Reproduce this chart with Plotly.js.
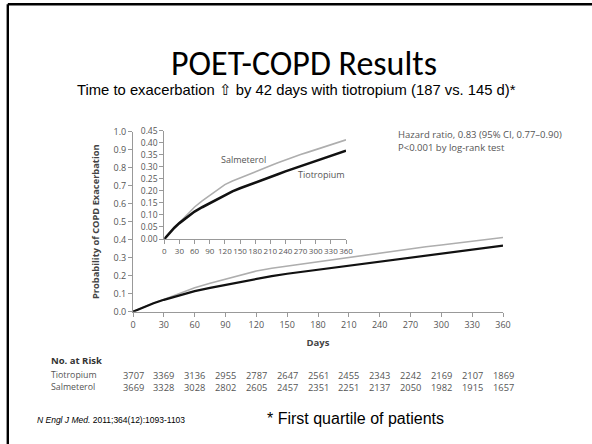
<!DOCTYPE html>
<html>
<head>
<meta charset="utf-8">
<script src="https://cdn.plot.ly/plotly-3.0.1.min.js"></script>
<style>
html,body{margin:0;padding:0;background:#fff;}
#chart{width:592px;height:444px;}
</style>
</head>
<body>
<div id="chart"></div>
<script>
// ---- data ----
var days = [0,10,20,30,45,60,75,90,105,120,135,150,165,180,195,210,225,240,255,270,285,300,315,330,345,360];
var tiotropium = [0,0.025,0.047,0.066,0.092,0.114,0.132,0.149,0.167,0.183,0.198,0.211,0.222,0.233,0.245,0.257,0.269,0.281,0.292,0.303,0.314,0.325,0.335,0.345,0.356,0.367];
var salmeterol = [0,0.026,0.048,0.068,0.100,0.133,0.158,0.180,0.205,0.226,0.241,0.253,0.265,0.277,0.291,0.304,0.317,0.329,0.340,0.351,0.361,0.371,0.381,0.391,0.402,0.412];
var riskDays = [0,30,60,90,120,150,180,210,240,270,300,330,360];
var tioRisk = [3707,3369,3136,2955,2787,2647,2561,2455,2343,2242,2169,2107,1869];
var salRisk = [3669,3328,3028,2802,2605,2457,2351,2251,2137,2050,1982,1915,1657];
var xTicks = [0,30,60,90,120,150,180,210,240,270,300,330,360];

// ---- helpers ----
var W = 592, H = 444;
function px(x){ return x / W; }
function py(y){ return 1 - y / H; }
var chartFont = 'Open Sans, Liberation Sans, sans-serif';
var gray = '#999';
var txt = '#555';

var traces = [
  {x: days, y: salmeterol, xaxis:'x', yaxis:'y', mode:'lines', line:{color:'#aeaeae', width:1.6}, name:'Salmeterol', hoverinfo:'skip'},
  {x: days, y: tiotropium, xaxis:'x', yaxis:'y', mode:'lines', line:{color:'#111111', width:2.2}, name:'Tiotropium', hoverinfo:'skip'},
  {x: days, y: salmeterol, xaxis:'x2', yaxis:'y2', mode:'lines', line:{color:'#aeaeae', width:1.6}, name:'Salmeterol', hoverinfo:'skip'},
  {x: days, y: tiotropium, xaxis:'x2', yaxis:'y2', mode:'lines', line:{color:'#111111', width:2.6}, name:'Tiotropium', hoverinfo:'skip'}
];

function axisBase(sz){
  return {showline:true, linecolor:gray, linewidth:1, ticks:'outside', ticklen:4, tickcolor:gray, tickwidth:1,
          showgrid:false, zeroline:false, tickangle:0, fixedrange:true,
          tickfont:{family:chartFont, size:sz, color:txt}};
}

var xaxis = Object.assign(axisBase(9), {domain:[px(133), px(503)], range:[0,360], tickvals:xTicks, anchor:'y',
  title:{text:'<b>Days</b>', font:{family:chartFont, size:9.5, color:'#444'}, standoff:9}});
var yaxis = Object.assign(axisBase(9), {domain:[py(311.7), py(131.7)], range:[0,1], dtick:0.1, tick0:0, tickformat:'.1f', anchor:'x',
  title:{text:'<b>Probability of COPD Exacerbation</b>', font:{family:chartFont, size:9.3, color:'#444'}, standoff:12}});
var xaxis2 = Object.assign(axisBase(8), {domain:[px(164.3), px(346)], range:[0,360], tickvals:xTicks, anchor:'y2'});
var yaxis2 = Object.assign(axisBase(8.5), {domain:[py(239), py(130.7)], range:[0,0.45], dtick:0.05, tick0:0, tickformat:'.2f', anchor:'x2'});

var annotations = [
  {text:'Time to exacerbation \u21E7 by 42 days with tiotropium (187 vs. 145 d)*', xref:'paper', yref:'paper', x:px(296), y:py(90),
   xanchor:'center', yanchor:'middle', showarrow:false, font:{family:'Liberation Sans, Arial, sans-serif', size:14.8, color:'#000'}},
  {text:'Hazard ratio, 0.83 (95% CI, 0.77\u20130.90)', xref:'paper', yref:'paper', x:px(396), y:py(134), xanchor:'left', yanchor:'middle',
   showarrow:false, font:{family:chartFont, size:9.5, color:txt}},
  {text:'P&lt;0.001 by log-rank test', xref:'paper', yref:'paper', x:px(396), y:py(147), xanchor:'left', yanchor:'middle',
   showarrow:false, font:{family:chartFont, size:9.5, color:txt}},
  {text:'Salmeterol', xref:'paper', yref:'paper', x:px(219), y:py(159), xanchor:'left', yanchor:'middle',
   showarrow:false, font:{family:chartFont, size:9, color:txt}},
  {text:'Tiotropium', xref:'paper', yref:'paper', x:px(296), y:py(174), xanchor:'left', yanchor:'middle',
   showarrow:false, font:{family:chartFont, size:9, color:txt}},
  {text:'<b>No. at Risk</b>', xref:'paper', yref:'paper', x:px(49), y:py(360), xanchor:'left', yanchor:'middle',
   showarrow:false, font:{family:chartFont, size:9.5, color:'#333'}},
  {text:'Tiotropium', xref:'paper', yref:'paper', x:px(49), y:py(375), xanchor:'left', yanchor:'middle',
   showarrow:false, font:{family:chartFont, size:8.8, color:txt}},
  {text:'Salmeterol', xref:'paper', yref:'paper', x:px(49), y:py(387), xanchor:'left', yanchor:'middle',
   showarrow:false, font:{family:chartFont, size:8.8, color:txt}},
  {text:'<i>N Engl J Med.</i> 2011;364(12):1093-1103', xref:'paper', yref:'paper', x:px(35), y:py(420), xanchor:'left', yanchor:'middle',
   showarrow:false, font:{family:'Liberation Sans, Arial, sans-serif', size:8.5, color:'#000'}},
  {text:'* First quartile of patients', xref:'paper', yref:'paper', x:px(265), y:py(418), xanchor:'left', yanchor:'middle',
   showarrow:false, font:{family:'Liberation Sans, Arial, sans-serif', size:16, color:'#000'}}
];
riskDays.forEach(function(d, i){
  annotations.push({text:String(tioRisk[i]), xref:'x', yref:'paper', x:d, y:py(375), xanchor:'center', yanchor:'middle',
    showarrow:false, font:{family:chartFont, size:9.3, color:txt}});
  annotations.push({text:String(salRisk[i]), xref:'x', yref:'paper', x:d, y:py(387), xanchor:'center', yanchor:'middle',
    showarrow:false, font:{family:chartFont, size:9.3, color:txt}});
});

var shapes = [
  {type:'line', xref:'paper', yref:'paper', x0:px(7.8), x1:1, y0:py(4.3), y1:py(4.3), line:{color:'#000', width:2.4}},
  {type:'line', xref:'paper', yref:'paper', x0:px(7.8), x1:px(7.8), y0:py(4.3), y1:0, line:{color:'#000', width:2.4}}
];

var layout = {
  width: W, height: H,
  margin:{l:0, r:0, t:0, b:0, pad:0},
  paper_bgcolor:'#fff', plot_bgcolor:'rgba(0,0,0,0)',
  showlegend:false,
  title:{text:'POET-COPD Results', xref:'paper', yref:'paper', x:px(304), y:py(63), xanchor:'center', yanchor:'middle',
         font:{family:'Carlito, Lato, sans-serif', size:34, color:'#000'}},
  xaxis: xaxis, yaxis: yaxis, xaxis2: xaxis2, yaxis2: yaxis2,
  annotations: annotations, shapes: shapes
};

Plotly.newPlot('chart', traces, layout, {staticPlot:true, displayModeBar:false});
</script>
</body>
</html>
